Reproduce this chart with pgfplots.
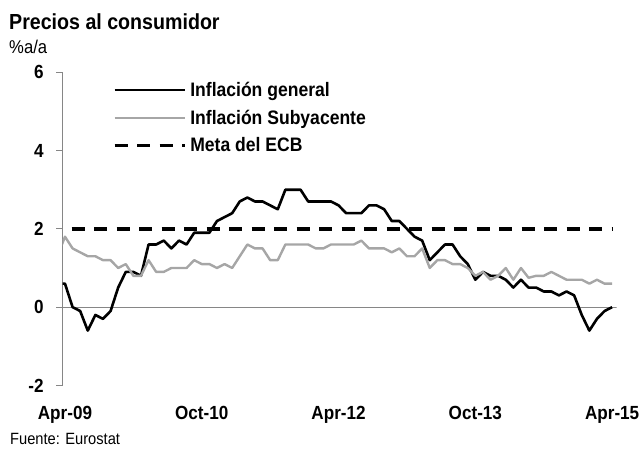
\documentclass[border=0pt]{standalone}
\usepackage{pgfplots}
\pgfplotsset{compat=1.18}
\usepackage{pgfplotstable}
\usepackage{fontspec}
\setmainfont{Liberation Sans}[FakeStretch=0.9]
\definecolor{coregray}{RGB}{166,166,166}
\definecolor{axgray}{RGB}{134,134,134}

% month index: 0 = Apr-09 ... 72 = Apr-15 (-1 = Mar-09, clipped at the axis)
\pgfplotstableread{
m v
-1 0.6
0 0.6
1 0.0
2 -0.1
3 -0.6
4 -0.2
5 -0.3
6 -0.1
7 0.5
8 0.9
9 0.9
10 0.8
11 1.6
12 1.6
13 1.7
14 1.5
15 1.7
16 1.6
17 1.9
18 1.9
19 1.9
20 2.2
21 2.3
22 2.4
23 2.7
24 2.8
25 2.7
26 2.7
27 2.6
28 2.5
29 3.0
30 3.0
31 3.0
32 2.7
33 2.7
34 2.7
35 2.7
36 2.6
37 2.4
38 2.4
39 2.4
40 2.6
41 2.6
42 2.5
43 2.2
44 2.2
45 2.0
46 1.8
47 1.7
48 1.2
49 1.4
50 1.6
51 1.6
52 1.3
53 1.1
54 0.7
55 0.9
56 0.8
57 0.8
58 0.7
59 0.5
60 0.7
61 0.5
62 0.5
63 0.4
64 0.4
65 0.3
66 0.4
67 0.3
68 -0.2
69 -0.6
70 -0.3
71 -0.1
72 0.0
}\general

\pgfplotstableread{
m v
-1 1.3
0 1.8
1 1.5
2 1.4
3 1.3
4 1.3
5 1.2
6 1.2
7 1.0
8 1.1
9 0.8
10 0.8
11 1.2
12 0.9
13 0.9
14 1.0
15 1.0
16 1.0
17 1.2
18 1.1
19 1.1
20 1.0
21 1.1
22 1.0
23 1.3
24 1.6
25 1.5
26 1.5
27 1.2
28 1.2
29 1.6
30 1.6
31 1.6
32 1.6
33 1.5
34 1.5
35 1.6
36 1.6
37 1.6
38 1.6
39 1.7
40 1.5
41 1.5
42 1.5
43 1.4
44 1.5
45 1.3
46 1.3
47 1.5
48 1.0
49 1.2
50 1.2
51 1.1
52 1.1
53 1.0
54 0.8
55 0.9
56 0.7
57 0.8
58 1.0
59 0.7
60 1.0
61 0.75
62 0.8
63 0.8
64 0.9
65 0.8
66 0.7
67 0.7
68 0.7
69 0.6
70 0.7
71 0.6
72 0.6
}\core

\pgfplotstableread{
m v
-1 2
72 2
}\ecb

\begin{document}
\begin{tikzpicture}
\useasboundingbox (0,0) rectangle (640pt,451pt);
\begin{axis}[
  at={(62.7pt,65.6pt)}, anchor=south west,
  scale only axis, width=554pt, height=313.1pt,
  xmin=-0.3, xmax=72.6, ymin=-2, ymax=6,
  axis y line=left, axis x line=bottom,
  axis line style={-},
  x axis line style={draw=none},
  y axis line style={axgray, line width=1pt},
  xtick={0,18,36,54,72},
  xticklabels={Apr-09,Oct-10,Apr-12,Oct-13,Apr-15},
  ytick={-2,0,2,4,6}, yticklabels={-2,0,2,4,6},
  xtick style={draw=none},
  ytick style={axgray, line width=1pt},
  tick align=outside, major tick length=6.5pt,
  xticklabel style={font=\bfseries\fontsize{19}{19}\selectfont, yshift=-11pt},
  yticklabel style={font=\bfseries\fontsize{19}{19}\selectfont, xshift=-9pt},
  legend style={draw=none, fill=none, at={(0.0908,0.969)}, anchor=north west,
    inner sep=0pt, outer sep=0pt,
    font=\bfseries\fontsize{19.5}{19.5}\selectfont,
    row sep=12pt,
    /tikz/every odd column/.append style={column sep=4pt},
    nodes={inner sep=0pt}},
  legend cell align=left,
  legend image code/.code={\draw[#1, dash phase=0pt] (0pt,0pt) -- (70pt,0pt);},
]
\addplot[forget plot, axgray, line width=1.2pt] coordinates {(-0.3,0) (72.6,0)};
\addplot[black, line width=2.6pt, line join=round] table[x=m, y=v] {\general};
\addplot[coregray, line width=2.4pt, line join=round] table[x=m, y=v] {\core};
\addplot[black, line width=3.3pt, dash pattern=on 13pt off 9.5pt, dash phase=8.2pt] table[x=m, y=v] {\ecb};
\legend{Inflación general, Inflación Subyacente, Meta del ECB}
\end{axis}
\node[anchor=base west, inner sep=0pt, font=\bfseries\fontsize{21.8}{24}\selectfont] at (9pt,421pt) {Precios al consumidor};
\node[anchor=base west, inner sep=0pt, font=\fontsize{18.5}{20}\selectfont] at (9pt,397.7pt) {\%a/a};
\node[anchor=base west, inner sep=0pt, font=\fontsize{16.3}{18}\selectfont] at (10pt,7pt) {Fuente: Eurostat};
\end{tikzpicture}
\end{document}
